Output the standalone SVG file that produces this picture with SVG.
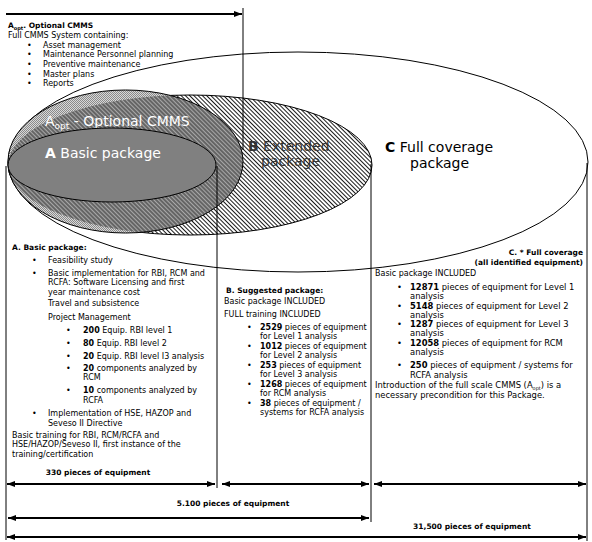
<svg xmlns="http://www.w3.org/2000/svg" width="592" height="542" viewBox="0 0 592 542">
<style>
.t{font-family:"DejaVu Sans",Verdana,sans-serif;font-size:8px;fill:#000}
.c{font-size:8.4px}
.b{font-weight:bold}
.h{font-weight:bold;font-size:7.5px}
.big{font-family:"DejaVu Sans",Verdana,sans-serif;font-size:14px}
.ln{stroke:#000;stroke-width:1}
.dim{stroke:#000;stroke-width:2;fill:none}
</style>
<defs>
<pattern id="hatch" width="3" height="3" patternUnits="userSpaceOnUse" patternTransform="rotate(-45)">
<line x1="0.5" y1="0" x2="0.5" y2="3" stroke="#000" stroke-width="0.9"/>
</pattern>
<pattern id="hatch2" width="3" height="3" patternUnits="userSpaceOnUse" patternTransform="rotate(-45)">
<rect width="3" height="3" fill="#a8a8a8"/>
<line x1="2" y1="0" x2="2" y2="3" stroke="#000" stroke-width="0.8"/>
</pattern>
<pattern id="dots" width="2" height="2" patternUnits="userSpaceOnUse">
<rect width="2" height="2" fill="#d8d8d8"/>
<rect x="0" y="0" width="1" height="1" fill="#8a8a8a"/>
<rect x="1" y="1" width="1" height="1" fill="#8a8a8a"/>
</pattern>
<clipPath id="clipB"><ellipse cx="190" cy="165" rx="182" ry="70"/></clipPath>
<marker id="ah" viewBox="0 0 8 6" refX="8" refY="3" markerWidth="4" markerHeight="3" orient="auto-start-reverse" markerUnits="strokeWidth">
<path d="M0,0 L8,3 L0,6 z" fill="#000"/>
</marker>
</defs>
<rect width="592" height="542" fill="#fff"/>

<g id="ellipse-c">
<ellipse cx="298" cy="162" rx="290" ry="110" fill="#fff" class="ln"/>
</g>
<g id="ellipse-b">
<ellipse cx="190" cy="165" rx="182" ry="70" fill="url(#hatch)" class="ln"/>
</g>
<g id="ellipse-aopt">
<ellipse cx="125.5" cy="161.5" rx="117.5" ry="71.5" fill="url(#dots)" stroke="none"/>
<ellipse cx="125.5" cy="161.5" rx="117.5" ry="71.5" fill="url(#hatch2)" clip-path="url(#clipB)" stroke="none"/>
<ellipse cx="125.5" cy="161.5" rx="117.5" ry="71.5" fill="none" class="ln"/>
<text x="45" y="126" class="big" fill="#fff">A<tspan font-size="9" dy="3">opt</tspan><tspan dy="-3"> - Optional CMMS</tspan></text>
</g>
<g id="ellipse-a">
<ellipse cx="112" cy="165" rx="104" ry="37" fill="#808080" class="ln"/>
<text x="45" y="158" class="big" fill="#fff"><tspan font-weight="bold">A</tspan> Basic package</text>
</g>
<g id="label-b">
<text x="248" y="151" class="big" fill="#333"><tspan font-weight="bold">B</tspan> Extended</text>
<text x="261" y="166" class="big" fill="#333">package</text>
</g>
<g id="label-c">
<text x="385" y="152" class="big" font-size="15" fill="#000"><tspan font-weight="bold">C</tspan> Full coverage</text>
<text x="410" y="168" class="big" font-size="15" fill="#000">package</text>
</g>

<g id="connectors">
<line x1="243" y1="8" x2="243" y2="150" class="ln"/>
<line x1="6" y1="166" x2="6" y2="540" class="ln"/>
<line x1="217" y1="166" x2="217" y2="488" class="ln"/>
<line x1="371" y1="164" x2="371" y2="522" class="ln"/>
<line x1="587" y1="163" x2="587" y2="541" class="ln"/>
<line x1="6" y1="14" x2="242" y2="14" class="dim" marker-end="url(#ah)"/>
<line x1="7" y1="484" x2="215" y2="484" class="dim" marker-start="url(#ah)" marker-end="url(#ah)"/>
<line x1="222" y1="484" x2="369" y2="484" class="dim" marker-start="url(#ah)" marker-end="url(#ah)"/>
<line x1="374" y1="484" x2="586" y2="484" class="dim" marker-start="url(#ah)" marker-end="url(#ah)"/>
<line x1="8" y1="518" x2="369" y2="518" class="dim" marker-start="url(#ah)" marker-end="url(#ah)"/>
<line x1="7" y1="537" x2="586" y2="537" class="dim" marker-start="url(#ah)" marker-end="url(#ah)"/>
</g>

<g id="text-aopt">
<text x="8" y="28" class="t h">A<tspan font-size="5" dy="1.5">opt</tspan><tspan dy="-1.5">. Optional CMMS</tspan></text>
<text x="8" y="38" class="t">Full CMMS System containing:</text>
<text x="27" y="47.5" class="t">•</text><text x="43" y="47.5" class="t">Asset management</text>
<text x="27" y="57" class="t">•</text><text x="43" y="57" class="t">Maintenance Personnel planning</text>
<text x="27" y="67" class="t">•</text><text x="43" y="67" class="t">Preventive maintenance</text>
<text x="27" y="76.5" class="t">•</text><text x="43" y="76.5" class="t">Master plans</text>
<text x="27" y="86" class="t">•</text><text x="43" y="86" class="t">Reports</text>
</g>

<g id="text-a">
<text x="12" y="250" class="t h">A. Basic package:</text>
<text x="32" y="263" class="t">•</text><text x="48" y="263" class="t">Feasibility study</text>
<text x="32" y="275.5" class="t">•</text><text x="48" y="275.5" class="t">Basic implementation for RBI, RCM and</text>
<text x="48" y="285" class="t">RCFA: Software Licensing and first</text>
<text x="48" y="294.5" class="t">year maintenance cost</text>
<text x="48" y="306" class="t">Travel and subsistence</text>
<text x="48" y="320" class="t">Project Management</text>
<text x="66" y="333" class="t">•</text><text x="83" y="333" class="t"><tspan class="b">200</tspan> Equip. RBI level 1</text>
<text x="66" y="345.5" class="t">•</text><text x="83" y="345.5" class="t"><tspan class="b">80</tspan> Equip. RBI level 2</text>
<text x="66" y="358.5" class="t">•</text><text x="83" y="358.5" class="t"><tspan class="b">20</tspan> Equip. RBI level I3 analysis</text>
<text x="66" y="371" class="t">•</text><text x="83" y="371" class="t"><tspan class="b">20</tspan> components analyzed by</text>
<text x="83" y="380" class="t">RCM</text>
<text x="66" y="393" class="t">•</text><text x="83" y="393" class="t"><tspan class="b">10</tspan> components analyzed by</text>
<text x="83" y="403" class="t">RCFA</text>
<text x="32" y="416" class="t">•</text><text x="48" y="416" class="t">Implementation of HSE, HAZOP and</text>
<text x="48" y="425.5" class="t">Seveso II Directive</text>
<text x="12" y="438" class="t">Basic training for RBI, RCM/RCFA and</text>
<text x="12" y="447" class="t">HSE/HAZOP/Seveso II, first instance of the</text>
<text x="12" y="457" class="t">training/certification</text>
<text x="98" y="475" class="t h" text-anchor="middle">330 pieces of equipment</text>
</g>

<g id="text-b">
<text x="226" y="293" class="t h">B. Suggested package:</text>
<text x="224" y="303.5" class="t">Basic package INCLUDED</text>
<text x="224" y="317" class="t">FULL training INCLUDED</text>
<text x="247" y="329.5" class="t">•</text><text x="260" y="329.5" class="t"><tspan class="b">2529</tspan> pieces of equipment</text>
<text x="260" y="338.5" class="t">for Level 1 analysis</text>
<text x="247" y="349" class="t">•</text><text x="260" y="349" class="t"><tspan class="b">1012</tspan> pieces of equipment</text>
<text x="260" y="358" class="t">for Level 2 analysis</text>
<text x="247" y="368" class="t">•</text><text x="260" y="368" class="t"><tspan class="b">253</tspan> pieces of equipment</text>
<text x="260" y="377" class="t">for Level 3 analysis</text>
<text x="247" y="387" class="t">•</text><text x="260" y="387" class="t"><tspan class="b">1268</tspan> pieces of equipment</text>
<text x="260" y="396" class="t">for RCM analysis</text>
<text x="247" y="406" class="t">•</text><text x="260" y="406" class="t"><tspan class="b">38</tspan> pieces of equipment /</text>
<text x="260" y="415" class="t">systems for RCFA analysis</text>
<text x="233" y="506" class="t h" text-anchor="middle">5.100 pieces of equipment</text>
</g>

<g id="text-c">
<text x="583" y="255" class="t h" text-anchor="end">C. * Full coverage</text>
<text x="583" y="265" class="t h" text-anchor="end">(all identified equipment)</text>
<text x="375" y="276" class="t">Basic package INCLUDED</text>
<text x="397" y="290" class="t c">•</text><text x="410" y="290" class="t c"><tspan class="b">12871</tspan> pieces of equipment for Level 1</text>
<text x="410" y="299" class="t c">analysis</text>
<text x="397" y="308.5" class="t c">•</text><text x="410" y="308.5" class="t c"><tspan class="b">5148</tspan> pieces of equipment for Level 2</text>
<text x="410" y="318" class="t c">analysis</text>
<text x="397" y="327" class="t c">•</text><text x="410" y="327" class="t c"><tspan class="b">1287</tspan> pieces of equipment for Level 3</text>
<text x="410" y="336" class="t c">analysis</text>
<text x="397" y="345.5" class="t c">•</text><text x="410" y="345.5" class="t c"><tspan class="b">12058</tspan> pieces of equipment for RCM</text>
<text x="410" y="355" class="t c">analysis</text>
<text x="397" y="368" class="t c">•</text><text x="410" y="368" class="t c"><tspan class="b">250</tspan> pieces of equipment / systems for</text>
<text x="410" y="378" class="t c">RCFA analysis</text>
<text x="375" y="388" class="t c">Introduction of the full scale CMMS (A<tspan font-size="5" dy="1.5">opt</tspan><tspan dy="-1.5">) is a</tspan></text>
<text x="375" y="398" class="t c">necessary precondition for this Package.</text>
<text x="472" y="529" class="t h" text-anchor="middle">31,500 pieces of equipment</text>
</g>
</svg>
